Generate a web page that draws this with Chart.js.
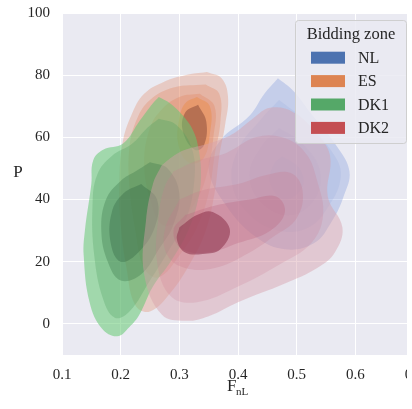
<!DOCTYPE html>
<html>
<head>
<meta charset="utf-8">
<script src="https://cdn.jsdelivr.net/npm/chart.js@4.4.0/dist/chart.umd.min.js"></script>
<style>
  html, body { margin: 0; padding: 0; overflow: hidden; background: #fff; }
</style>
</head>
<body>
<canvas id="kde" width="430" height="409"></canvas>
<script>
// bidding zones, drawn bottom -> top
const zones = ["NL", "ES", "DK1", "DK2"];

// KDE contour levels (outer -> inner), [F_nL, P]
const nlContours = [
  [[0.468,79],[0.494,75],[0.523,68],[0.569,57],[0.59,49],[0.58,41],[0.56,33],[0.53,26],[0.48,24],[0.43,28],[0.38,38],[0.35,50],[0.37,59],[0.42,67],[0.445,74]],
  [[0.47,72],[0.51,66],[0.565,54],[0.575,47],[0.555,38],[0.52,31],[0.47,30],[0.42,35],[0.39,45],[0.40,56],[0.44,66]],
  [[0.47,63],[0.51,58],[0.54,49],[0.53,40],[0.49,35],[0.44,39],[0.42,48],[0.44,57]],
  [[0.475,54],[0.505,50],[0.51,44],[0.48,40],[0.455,45],[0.46,51]]
];
const esContours = [
  [[0.347,81],[0.372,79],[0.383,73],[0.378,64],[0.368,54],[0.36,42],[0.345,30],[0.32,20],[0.285,10],[0.25,4],[0.225,6],[0.21,18],[0.2,32],[0.198,46],[0.203,58],[0.218,67],[0.24,74],[0.275,78],[0.31,80]],
  [[0.345,77],[0.368,74],[0.37,65],[0.36,54],[0.35,42],[0.33,31],[0.30,22],[0.265,15],[0.24,18],[0.225,30],[0.215,44],[0.215,57],[0.228,66],[0.25,72],[0.29,76]],
  [[0.335,74],[0.36,70],[0.358,60],[0.348,49],[0.33,40],[0.30,33],[0.27,32],[0.25,40],[0.24,52],[0.25,63],[0.27,69],[0.30,73]],
  [[0.33,73],[0.352,70],[0.352,61],[0.34,53],[0.315,52],[0.298,58],[0.30,66],[0.31,71]],
  [[0.332,70.5],[0.346,65],[0.342,57.5],[0.326,56],[0.306,62],[0.31,68]]
];
const dk1Contours = [
  [[0.265,73],[0.284,71],[0.306,67],[0.324,62],[0.333,56],[0.337,48],[0.332,40],[0.315,30],[0.285,20],[0.255,12],[0.232,3],[0.215,-1],[0.194,-4],[0.168,-1.5],[0.147,7],[0.137,22],[0.139,30],[0.15,45],[0.153,52.5],[0.17,56],[0.204,58],[0.233,65.5],[0.255,71]],
  [[0.265,66],[0.295,64],[0.322,56],[0.325,45],[0.31,33],[0.28,23],[0.25,14],[0.215,4],[0.19,2],[0.17,8],[0.155,22],[0.152,38],[0.16,48],[0.185,54],[0.22,58],[0.245,63]],
  [[0.25,52],[0.28,50],[0.30,42],[0.29,32],[0.265,24],[0.235,16],[0.20,14],[0.178,20],[0.167,30],[0.175,40],[0.20,46],[0.225,49]],
  [[0.235,45],[0.262,40],[0.258,31],[0.23,23],[0.20,20],[0.183,26],[0.185,36],[0.205,42]]
];
const dk2Contours = [
  [[0.27,51],[0.29,54],[0.31,56],[0.35,58],[0.39,61],[0.425,66],[0.455,69.5],[0.495,68],[0.535,61],[0.557,54],[0.553,41],[0.578,31],[0.565,23],[0.535,18],[0.48,13],[0.40,7],[0.35,2.5],[0.31,1],[0.27,3],[0.24,16],[0.243,33],[0.255,45]],
  [[0.29,49],[0.33,52.5],[0.38,55],[0.43,60],[0.475,60],[0.515,55],[0.535,46],[0.545,35],[0.525,26],[0.47,19],[0.40,12],[0.33,7],[0.285,9],[0.262,20],[0.265,35],[0.275,44]],
  [[0.30,40],[0.34,43],[0.40,45],[0.45,48],[0.49,48.5],[0.51,43],[0.50,34],[0.46,28],[0.42,23],[0.36,18],[0.31,18],[0.28,22],[0.275,30]],
  [[0.31,35],[0.36,38],[0.42,40],[0.465,41],[0.48,36],[0.455,30],[0.40,26],[0.35,23],[0.305,24],[0.29,30]],
  [[0.30,31],[0.33,35],[0.357,36],[0.386,30.5],[0.37,24],[0.34,22.5],[0.31,23],[0.296,27]]
];

const xTicks = [0.1, 0.2, 0.3, 0.4, 0.5, 0.6, 0.7];
const yTicks = [0, 20, 40, 60, 80, 100];

// styles
const zoneColors = ["#4c72b0", "#dd8452", "#55a868", "#c44e52"];
const levelFills = [
  ["rgba(120,150,220,0.33)", "rgba(100,130,210,0.1)", "rgba(100,130,210,0.05)", "rgba(100,130,210,0.05)"],
  ["rgba(225,130,90,0.3)", "rgba(225,130,90,0.3)", "rgba(225,130,90,0.3)", "rgba(235,140,70,0.45)", "rgba(150,85,65,0.6)"],
  ["rgba(100,200,115,0.55)", "rgba(80,160,95,0.3)", "rgba(60,120,75,0.35)", "rgba(50,100,65,0.35)"],
  ["rgba(215,160,170,0.45)", "rgba(205,125,145,0.22)", "rgba(200,120,140,0.25)", "rgba(190,100,125,0.3)", "rgba(140,50,75,0.55)"]
];
const SERIF = "'Liberation Serif', 'DejaVu Serif', serif";
const TEXT = "#262626";
const PLOT_BG = "#eaeaf2";
const CROP_X = 407;   // the reference picture is cut off here

const allContours = [nlContours, esContours, dk1Contours, dk2Contours];
const datasets = [];
let drawIdx = 0;
allContours.forEach((levels, g) => {
  levels.forEach((poly, k) => {
    const pts = poly.map(([x, y]) => ({ x, y }));
    pts.push(pts[0]);
    datasets.push({
      label: zones[g],
      data: pts,
      showLine: true,
      fill: "shape",
      backgroundColor: levelFills[g][k],
      borderWidth: 0,
      borderColor: "rgba(0,0,0,0)",
      pointRadius: 0,
      tension: 0.4,
      order: -drawIdx++
    });
  });
});

const plotBackground = {
  id: "plotBackground",
  beforeDraw(chart) {
    const { ctx, chartArea: a } = chart;
    ctx.save();
    ctx.fillStyle = PLOT_BG;
    ctx.fillRect(a.left, a.top, a.right - a.left, a.bottom - a.top);
    ctx.restore();
  }
};

const axisTitles = {
  id: "axisTitles",
  afterDraw(chart) {
    const ctx = chart.ctx;
    ctx.save();
    ctx.fillStyle = TEXT;
    ctx.textBaseline = "middle";
    ctx.textAlign = "center";
    ctx.font = "17px " + SERIF;
    ctx.fillText("P", 18, 173);
    ctx.textAlign = "left";
    ctx.fillText("F", 227, 387);
    ctx.font = "11px " + SERIF;
    ctx.fillText("nL", 236, 392);
    // crop edge of the original figure
    ctx.fillStyle = "#ffffff";
    ctx.fillRect(CROP_X, 0, chart.width - CROP_X, chart.height);
    ctx.restore();
  }
};

const zoneLegend = {
  id: "zoneLegend",
  afterDatasetsDraw(chart) {
    const ctx = chart.ctx;
    const x0 = 295.5, y0 = 20.5, w = 111, h = 123, r = 3;
    ctx.save();
    ctx.beginPath();
    ctx.roundRect(x0, y0, w, h, r);
    ctx.fillStyle = "rgba(234,234,242,0.85)";
    ctx.fill();
    ctx.strokeStyle = "#cfcfcf";
    ctx.lineWidth = 1;
    ctx.stroke();
    ctx.fillStyle = TEXT;
    ctx.font = "16.5px " + SERIF;
    ctx.textBaseline = "middle";
    ctx.textAlign = "center";
    ctx.fillText("Bidding zone", x0 + w / 2, 35);
    ctx.font = "16px " + SERIF;
    ctx.textAlign = "left";
    zones.forEach((z, i) => {
      const cy = 57.7 + i * 23.4;
      ctx.fillStyle = zoneColors[i];
      ctx.fillRect(311, cy - 6, 34, 12);
      ctx.fillStyle = TEXT;
      ctx.fillText(z, 358, cy + 1);
    });
    ctx.restore();
  }
};

new Chart(document.getElementById("kde"), {
  type: "scatter",
  data: { datasets },
  options: {
    responsive: false,
    animation: false,
    layout: { padding: { top: 13, right: 16, left: 0, bottom: 0 } },
    plugins: { legend: { display: false }, tooltip: { enabled: false } },
    scales: {
      x: {
        type: "linear",
        min: 0.1,
        max: 0.7,
        border: { display: false },
        grid: { color: "#ffffff", lineWidth: 1, drawTicks: false },
        ticks: { padding: 11, color: TEXT, font: { family: SERIF, size: 15 }, callback: v => v.toFixed(1) },
        afterBuildTicks: s => { s.ticks = xTicks.map(v => ({ value: v })); },
        afterFit: s => { s.height = 54; s.paddingLeft = 0; s.paddingRight = 0; }
      },
      y: {
        type: "linear",
        min: -10,
        max: 100,
        border: { display: false },
        grid: { color: "#ffffff", lineWidth: 1, drawTicks: false },
        ticks: { padding: 12, color: TEXT, font: { family: SERIF, size: 15 } },
        afterBuildTicks: s => { s.ticks = yTicks.map(v => ({ value: v })); },
        afterFit: s => { s.width = 62; s.paddingTop = 0; s.paddingBottom = 0; }
      }
    }
  },
  plugins: [plotBackground, axisTitles, zoneLegend]
});
</script>
</body>
</html>
